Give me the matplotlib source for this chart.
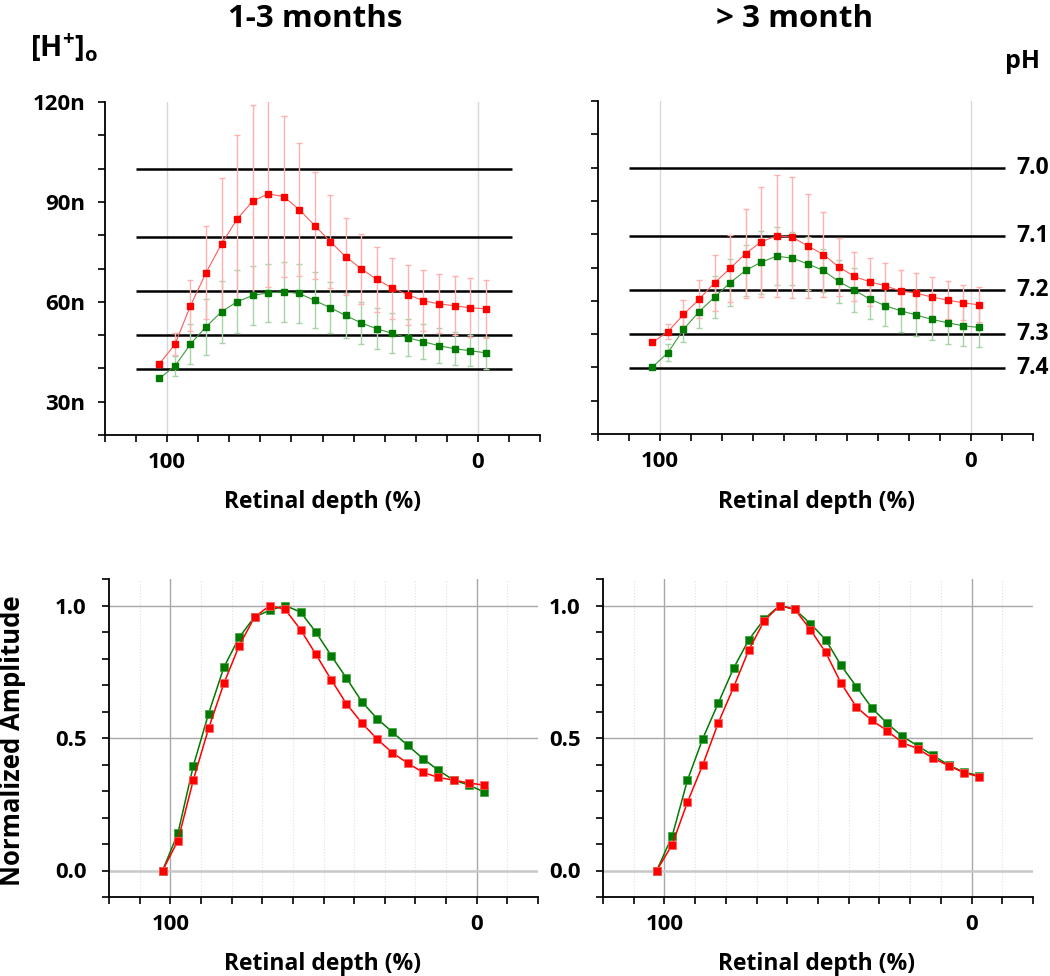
# pH / [H+]o profiles across retinal depth, two age groups + normalized amplitude

import matplotlib
matplotlib.use('Agg')
import matplotlib.pyplot as plt
from matplotlib import font_manager

# pick a heavy bold sans font close to the original (Calibri bold)
installed = {f.name for f in font_manager.fontManager.ttflist}
FONT = 'DejaVu Sans'
for fam in ['Open Sans', 'Roboto', 'Lato']:
    if fam in installed:
        FONT = fam
        break
plt.rcParams['font.family'] = [FONT, 'DejaVu Sans']
plt.rcParams['font.weight'] = 'bold'
plt.rcParams['mathtext.fontset'] = 'custom'
plt.rcParams['mathtext.rm'] = FONT + ':bold'
plt.rcParams['mathtext.bf'] = FONT + ':bold'

# ---- data ----
depth = [102.5, 97.5, 92.5, 87.5, 82.5, 77.5, 72.5, 67.5, 62.5, 57.5, 52.5,
         47.5, 42.5, 37.5, 32.5, 27.5, 22.5, 17.5, 12.5, 7.5, 2.5, -2.5]

# 1-3 months, [H+]o in nM
young_red = [41.4, 47.2, 58.8, 68.7, 77.4, 84.8, 90.2, 92.4, 91.6, 87.7, 82.9,
             78.1, 73.5, 69.9, 66.7, 64.1, 62.1, 60.3, 59.4, 58.8, 58.2, 57.9]
young_red_err = [0, 3.3, 7.6, 14.0, 19.7, 25.4, 28.8, 28.0, 24.3, 20.1, 16.2,
                 13.9, 11.6, 10.5, 9.9, 9.2, 9.1, 9.1, 8.8, 8.8, 8.8, 8.7]
young_green = [37.0, 40.7, 47.3, 52.5, 57.0, 60.0, 61.9, 62.7, 63.0, 62.5, 60.4,
               58.2, 55.9, 53.6, 51.9, 50.5, 49.2, 48.0, 46.8, 45.9, 45.3, 44.7]
young_green_err = [0, 3.0, 5.9, 8.4, 9.3, 9.5, 8.9, 8.8, 9.0, 8.9, 8.4,
                   7.6, 6.8, 6.4, 6.1, 6.0, 5.5, 5.3, 5.2, 4.9, 4.7, 4.8]

# > 3 month
old_red = [47.5, 50.7, 55.9, 60.4, 65.4, 69.7, 74.2, 77.7, 79.5, 79.1, 76.5,
           73.9, 70.2, 67.3, 65.7, 64.5, 62.9, 62.3, 61.1, 60.2, 59.4, 58.8]
old_red_err = [0, 2.2, 4.2, 5.7, 8.4, 10.2, 13.3, 16.6, 18.4, 18.2, 15.6,
               12.9, 8.7, 7.5, 7.3, 6.9, 6.2, 5.9, 5.9, 5.6, 5.2, 5.3]
old_green = [40.1, 44.4, 51.4, 56.7, 61.1, 65.4, 69.1, 71.6, 73.4, 72.8, 71.1,
             69.1, 65.8, 63.2, 60.5, 58.5, 57.0, 55.7, 54.4, 53.4, 52.5, 52.0]
old_green_err = [0, 2.5, 3.8, 4.8, 6.2, 7.1, 7.8, 9.5, 8.7, 8.0, 8.0,
                 6.4, 6.6, 6.5, 6.0, 6.1, 6.5, 6.3, 6.2, 6.4, 6.1, 6.0]

# normalized amplitude
norm_young_red = [0.0, 0.113, 0.341, 0.536, 0.706, 0.849, 0.956, 1.0, 0.985, 0.909, 0.816,
                  0.720, 0.629, 0.557, 0.496, 0.444, 0.405, 0.370, 0.351, 0.341, 0.330, 0.322]
norm_young_green = [0.0, 0.141, 0.394, 0.592, 0.767, 0.880, 0.957, 0.982, 1.0, 0.975, 0.900,
                    0.811, 0.726, 0.637, 0.573, 0.522, 0.472, 0.422, 0.378, 0.341, 0.322, 0.296]
norm_old_red = [0.0, 0.097, 0.258, 0.399, 0.556, 0.691, 0.833, 0.942, 1.0, 0.985, 0.909,
                0.823, 0.707, 0.617, 0.567, 0.528, 0.482, 0.460, 0.423, 0.396, 0.369, 0.354]
norm_old_green = [0.0, 0.129, 0.341, 0.498, 0.631, 0.763, 0.871, 0.949, 1.0, 0.985, 0.932,
                  0.871, 0.774, 0.694, 0.614, 0.555, 0.506, 0.470, 0.434, 0.398, 0.371, 0.358]

# pH reference lines
ph_conc = [100, 79.4, 63.1, 50.1, 39.8]
ph_labels = ['7.0', '7.1', '7.2', '7.3', '7.4']

x_ticks = [120, 110, 100, 90, 80, 70, 60, 50, 40, 30, 20, 10, 0, -10, -20]
x_ticklabels = ['', '', '100', '', '', '', '', '', '', '', '', '', '0', '', '']
h_ticks = [20, 30, 40, 50, 60, 70, 80, 90, 100, 110, 120]
h_ticklabels = ['', '30n', '', '', '60n', '', '', '90n', '', '', '120n']
n_ticks = [-0.1, 0.0, 0.1, 0.2, 0.3, 0.4, 0.5, 0.6, 0.7, 0.8, 0.9, 1.0, 1.1]
n_ticklabels = ['', '0.0', '', '', '', '', '0.5', '', '', '', '', '1.0', '']

RED = '#ff0000'
GREEN = '#007a00'

W, H = 1050, 976
fig = plt.figure(figsize=(W / 100, H / 100), dpi=100)


def box(l, t, r, b):
    return [l / W, 1 - b / H, (r - l) / W, (b - t) / H]


def style(ax, ypad):
    for s in ['top', 'right']:
        ax.spines[s].set_visible(False)
    for s in ['left', 'bottom']:
        ax.spines[s].set_linewidth(1.3)
    ax.set_xlim(120, -20)
    ax.set_xticks(x_ticks)
    ax.set_xticklabels(x_ticklabels)
    ax.tick_params(axis='both', direction='out', length=5, width=1.2, labelsize=16)
    ax.tick_params(axis='x', pad=7)
    ax.tick_params(axis='y', pad=ypad)


def top_panel(ax, red, red_err, green, green_err, labels):
    style(ax, 9)
    ax.set_ylim(20, 120)
    ax.set_yticks(h_ticks)
    ax.set_yticklabels(h_ticklabels if labels else [''] * len(h_ticks))
    ax.axvline(100, color='#d8d8d8', lw=1, zorder=0)
    ax.axvline(0, color='#d8d8d8', lw=1, zorder=0)
    ax.hlines(ph_conc, 110, -11, color='black', lw=1.8, zorder=1)
    ax.errorbar(depth, green, yerr=green_err, fmt='none', ecolor='#a8d4a8',
                elinewidth=1, capsize=2.5, capthick=1, zorder=2)
    ax.errorbar(depth, red, yerr=red_err, fmt='none', ecolor='#ffb0b0',
                elinewidth=1, capsize=2.5, capthick=1, zorder=2)
    ax.plot(depth, green, color='#3c9a3c', lw=0.8, marker='s', ms=5,
            mfc=GREEN, mec=GREEN, zorder=3)
    ax.plot(depth, red, color='#ff5a5a', lw=0.8, marker='s', ms=5,
            mfc=RED, mec=RED, zorder=4)


def bottom_panel(ax, red, green):
    style(ax, 11)
    ax.set_ylim(-0.1, 1.1)
    ax.set_yticks(n_ticks)
    ax.set_yticklabels(n_ticklabels)
    for xv in x_ticks:
        if xv in (100, 0):
            ax.axvline(xv, color='#a8a8a8', lw=1, zorder=0)
        else:
            ax.axvline(xv, color='#e0e0e0', lw=0.8, ls=':', zorder=0)
    ax.axhline(1.0, color='#a8a8a8', lw=1, zorder=0)
    ax.axhline(0.5, color='#a8a8a8', lw=1, zorder=0)
    ax.axhline(0.0, color='#c8c8c8', lw=1.8, zorder=0)
    ax.plot(depth, green, color=GREEN, lw=1.1, marker='s', ms=5.2,
            mfc=GREEN, mec='#3aa03a', mew=0.5, zorder=3)
    ax.plot(depth, red, color=RED, lw=1.1, marker='s', ms=5.2,
            mfc=RED, mec='#ff6060', mew=0.5, zorder=4)


ax1 = fig.add_axes(box(105, 102, 540, 435))
top_panel(ax1, young_red, young_red_err, young_green, young_green_err, True)
ax2 = fig.add_axes(box(598, 101, 1033, 434))
top_panel(ax2, old_red, old_red_err, old_green, old_green_err, False)
for v, lab in zip(ph_conc, ph_labels):
    ax2.text(-14.6, v, lab, ha='left', va='center', fontsize=16.5, clip_on=False)

ax3 = fig.add_axes(box(109, 579, 538, 897))
bottom_panel(ax3, norm_young_red, norm_young_green)
ax4 = fig.add_axes(box(603, 579, 1033, 897))
bottom_panel(ax4, norm_old_red, norm_old_green)

# texts
def ftext(x, y, s, **kw):
    fig.text(x / W, 1 - y / H, s, **kw)

ftext(315, 27, '1-3 months', ha='center', va='baseline', fontsize=22.5)
ftext(795, 27, '> 3 month', ha='center', va='baseline', fontsize=22.5)
ftext(30, 48, r'$\mathbf{[H^{+}]_{o}}$', ha='left', va='center', fontsize=21)
ftext(1005, 68, 'pH', ha='left', va='baseline', fontsize=18)
for x, y in [(323, 508), (816, 508), (323, 970), (817, 970)]:
    ftext(x, y, 'Retinal depth (%)', ha='center', va='baseline', fontsize=16.5)
ftext(13, 741, 'Normalized Amplitude', ha='center', va='center',
      rotation=90, fontsize=18.5)

fig.savefig('out.png', dpi=100)
